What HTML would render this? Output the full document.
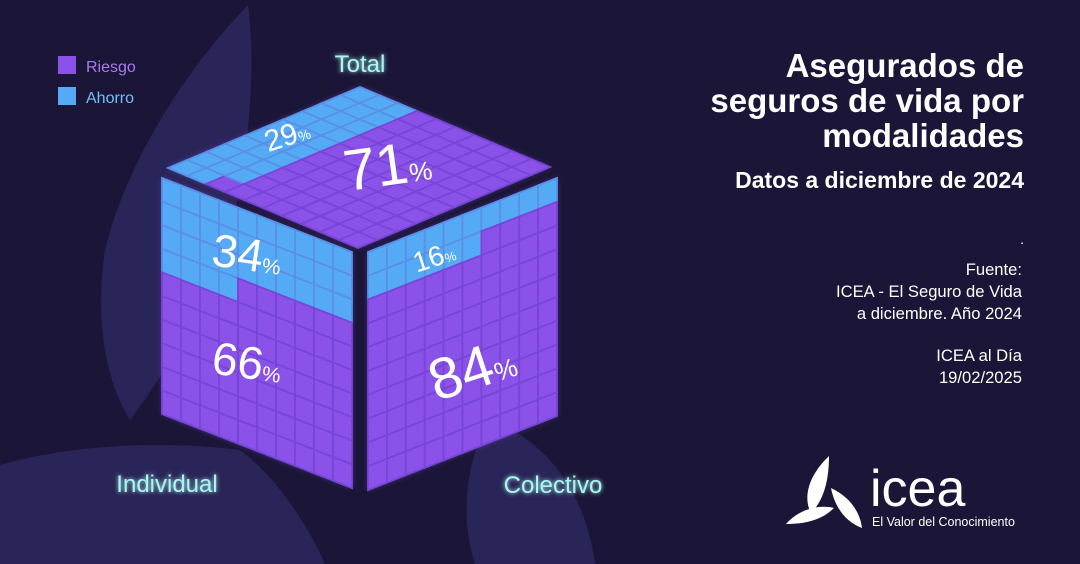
<!DOCTYPE html>
<html><head><meta charset="utf-8"><style>
html,body{margin:0;padding:0;background:#1b1637;}
svg{display:block;font-family:"Liberation Sans",sans-serif;}
</style></head><body>
<svg id="chart" width="1080" height="564" viewBox="0 0 1080 564" xmlns="http://www.w3.org/2000/svg">
<defs>
<filter id="glow" x="-20%" y="-20%" width="140%" height="140%"><feGaussianBlur stdDeviation="3"/></filter>
<filter id="tglow"><feGaussianBlur stdDeviation="2" result="b"/><feMerge><feMergeNode in="b"/><feMergeNode in="SourceGraphic"/></feMerge></filter>
</defs>
<rect width="1080" height="564" fill="#1b1637"/>
<g fill="#2a2558">
<path d="M248,5 C195,60 130,150 105,250 C95,320 105,380 130,420 C175,360 220,280 240,190 C252,120 254,50 248,5 Z"/>
<path d="M0,465 C70,445 160,440 240,450 C280,480 310,530 325,564 L0,564 Z"/>
<path d="M490,420 C545,440 585,490 595,564 L475,564 C460,520 465,460 490,420 Z"/>
</g>
<g id="cube"></g>
<g>
<rect x="58" y="56" width="18" height="18" fill="#8b52ea"/>
<text x="86" y="72" font-size="16" fill="#a77cf2">Riesgo</text>
<rect x="58" y="87" width="18" height="18" fill="#55aaf5"/>
<text x="86" y="103" font-size="16" fill="#6cc0fb">Ahorro</text>
</g>
<g fill="#a8f6f0" font-size="24" filter="url(#tglow)" text-anchor="middle">
<text x="360" y="72">Total</text>
<text x="167" y="492">Individual</text>
<text x="553" y="493">Colectivo</text>
</g>
<g fill="#fff" text-anchor="end">
<text x="1024" y="77" font-size="33" font-weight="bold">Asegurados de</text>
<text x="1024" y="112" font-size="33" font-weight="bold">seguros de vida por</text>
<text x="1024" y="147" font-size="33" font-weight="bold">modalidades</text>
<text x="1024" y="188" font-size="23" font-weight="bold">Datos a diciembre de 2024</text>
<text x="1024" y="244" font-size="14">.</text>
<g font-size="16.6">
<text x="1022" y="275">Fuente:</text>
<text x="1022" y="297">ICEA - El Seguro de Vida</text>
<text x="1022" y="319">a diciembre. Año 2024</text>
<text x="1022" y="361">ICEA al Día</text>
<text x="1022" y="383">19/02/2025</text>
</g>
</g>
<g fill="#fff">
<path d="M829,456 C810,474 802,496 811,513 C822,502 829,484 829,456 Z"/>
<path d="M831,488 C850,497 860,512 862,528 C846,522 835,508 831,488 Z"/>
<path d="M786,524 C798,510 818,504 834,508 C822,520 805,524 786,524 Z"/>
<text x="870" y="506" font-size="52">icea</text>
<text x="872" y="526" font-size="12.5">El Valor del Conocimiento</text>
</g>
</svg>
<script>
const categories = ['Total','Individual','Colectivo'];
const ahorro = [29, 34, 16];
const riesgo = [71, 66, 84];

const NS='http://www.w3.org/2000/svg';
const cube=document.getElementById('cube');
const faces=[
 {o:[168,168], a:[192,-81], b:[190,80], fromEnd:true, lbl:[[290,145,30,-18],[390,185,58,-8]]},
 {o:[162,178], a:[190,74], b:[0,236], fromEnd:false, lbl:[[245,270,46,8],[245,378,46,8]]},
 {o:[368,252], a:[189,-74], b:[0,238], fromEnd:false, lbl:[[437,266,28,-18],[478,388,58,-18]]}
];
function pt(f,u,v){return [f.o[0]+f.a[0]*u/10+f.b[0]*v/10, f.o[1]+f.a[1]*u/10+f.b[1]*v/10];}
faces.forEach((f,i)=>{
  const g=document.createElementNS(NS,'g');
  
  
  const c=[pt(f,0,0),pt(f,10,0),pt(f,10,10),pt(f,0,10)];
  const gl=document.createElementNS(NS,'polygon');
  gl.setAttribute('points',c.map(p=>p.join(',')).join(' '));
  gl.setAttribute('fill','#7b4ee0');gl.setAttribute('filter','url(#glow)');gl.setAttribute('opacity','0.5');
  g.appendChild(gl);
  const n=Math.round(ahorro[i]);
  const full=Math.floor(n/10), rem=n%10;
  for(let v=0;v<10;v++)for(let u=0;u<10;u++){
    let blue = v<full || (v===full && (f.fromEnd ? u>=10-rem : u<rem));
    const p=[pt(f,u,v),pt(f,u+1,v),pt(f,u+1,v+1),pt(f,u,v+1)];
    const cell=document.createElementNS(NS,'polygon');
    cell.setAttribute('points',p.map(q=>q.join(',')).join(' '));
    cell.setAttribute('fill',blue?'#55aaf5':'#8b52ea');
    cell.setAttribute('stroke',blue?'#5a8fe6':'#7646d6');
    cell.setAttribute('stroke-width','1.8');
    
    
    g.appendChild(cell);
  }
  [ahorro[i],riesgo[i]].forEach((val,k)=>{
    const L=f.lbl[k];
    const t=document.createElementNS(NS,'text');
    
    
    t.setAttribute('text-anchor','middle');
    t.setAttribute('fill','#fff');
    t.setAttribute('font-size',L[2]);
    t.setAttribute('transform','translate('+L[0]+','+L[1]+') rotate('+L[3]+')');
    t.innerHTML=val+'<tspan font-size="'+Math.round(L[2]*0.45)+'">%</tspan>';
    g.appendChild(t);
  });
  cube.appendChild(g);
});
</script>
</body></html>
